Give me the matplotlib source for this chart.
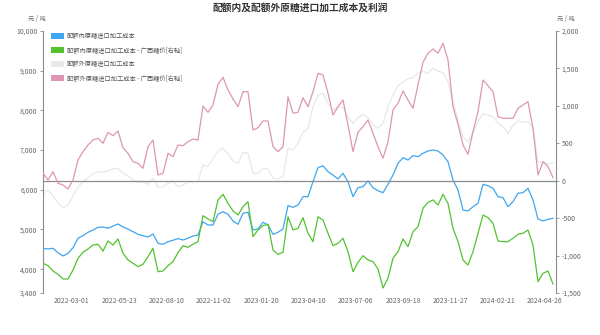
import matplotlib
matplotlib.use('Agg')
import matplotlib.pyplot as plt
from matplotlib.patches import Patch
from matplotlib.ticker import FuncFormatter
import numpy as np

plt.rcParams['font.family'] = ['Noto Sans CJK SC', 'DejaVu Sans']

# weekly-ish samples, left axis (元/吨)
quota_in_cost = [4526, 4509, 4526, 4415, 4332, 4400, 4541, 4778, 4844, 4929,
                 4987, 5055, 5063, 5030, 5088, 5138, 5063, 5012, 4944, 4879,
                 4844, 4811, 4886, 4652, 4627, 4692, 4728, 4770, 4735, 4778,
                 4836, 4861, 5196, 5113, 5113, 5383, 5448, 5383, 5214, 5131,
                 5408, 5433, 4987, 5012, 5181, 5113, 4879, 4929, 5012, 5599,
                 5559, 5617, 5826, 5826, 6204, 6557, 6607, 6456, 6373, 6272,
                 6415, 6204, 5826, 6053, 6078, 6221, 6053, 5977, 5927, 6138,
                 6373, 6667, 6808, 6750, 6859, 6834, 6919, 6977, 7002, 6977,
                 6876, 6708, 6247, 5995, 5491, 5466, 5574, 5660, 6138, 6103,
                 6038, 5826, 5801, 5574, 5700, 5912, 5927, 6038, 5743, 5264,
                 5214, 5256, 5282]
quota_out_cost = [5912, 5995, 5844, 5675, 5549, 5617, 5851, 6063, 6204, 6305,
                  6405, 6448, 6448, 6473, 6531, 6541, 6415, 6355, 6247, 6189,
                  6204, 6138, 6290, 6063, 6070, 6164, 6204, 6078, 6121, 6189,
                  6204, 6204, 6625, 6582, 6776, 6977, 7045, 6919, 6725, 6667,
                  6944, 6919, 6415, 6415, 6541, 6524, 6290, 6272, 6330, 7045,
                  7002, 7171, 7448, 7549, 8093, 8388, 8431, 8179, 8010, 8093,
                  8068, 7841, 7675, 7816, 7902, 7816, 7632, 7549, 7675, 8093,
                  8388, 8622, 8708, 8791, 8824, 8934, 8992, 8934, 9060, 8992,
                  8950, 8723, 8219, 7783, 7337, 7211, 7448, 7715, 7917, 7884,
                  7841, 7675, 7589, 7423, 7632, 7733, 7700, 7715, 7589, 6690,
                  6705, 6650, 6680]
# right axis: cost minus Guangxi sugar price
quota_in_margin = [-1103, -1135, -1206, -1250, -1313, -1313, -1193, -1036, -956, -912,
                   -859, -849, -939, -805, -859, -778, -969, -1059, -1103, -1148,
                   -1116, -1015, -903, -1215, -1206, -1135, -1082, -961, -868, -889,
                   -849, -814, -467, -511, -547, -257, -181, -302, -404, -458,
                   -347, -280, -748, -658, -601, -582, -925, -983, -956, -481,
                   -658, -636, -494, -702, -814, -481, -525, -702, -868, -836,
                   -769, -948, -1215, -1090, -1002, -1059, -1082, -1179, -1433, -1303,
                   -1036, -948, -778, -881, -681, -614, -368, -288, -257, -324,
                   -181, -302, -636, -814, -1059, -1126, -948, -702, -458, -494,
                   -569, -805, -814, -814, -769, -716, -702, -658, -859, -1349,
                   -1237, -1206, -1380]
quota_out_margin = [99, 10, 121, -34, -57, -111, 10, 277, 388, 477,
                    544, 567, 500, 647, 601, 664, 441, 366, 254, 233,
                    166, 454, 544, 76, 99, 366, 321, 477, 468, 521,
                    557, 544, 998, 914, 1012, 1288, 1382, 1212, 1092, 989,
                    1189, 1189, 678, 708, 798, 798, 454, 388, 454, 1122,
                    901, 914, 1109, 989, 1189, 1435, 1412, 1168, 878, 989,
                    1078, 744, 388, 647, 722, 811, 633, 454, 300, 521,
                    945, 1034, 1199, 1078, 967, 1279, 1582, 1702, 1760, 1702,
                    1836, 1613, 989, 754, 477, 353, 655, 922, 1345, 1269,
                    1189, 855, 834, 834, 834, 967, 1012, 1056, 700, 76,
                    254, 187, 40]

date_labels = ['2022-03-01', '2022-05-23', '2022-08-10', '2022-11-02', '2023-01-20',
               '2023-04-10', '2023-07-06', '2023-09-18', '2023-11-27', '2024-02-21',
               '2024-04-26']

names = ['配额内原糖进口加工成本', '配额内原糖进口加工成本 - 广西糖价[右轴]',
         '配额外原糖进口加工成本', '配额外原糖进口加工成本 - 广西糖价[右轴]']
colors = ['#3ea6ee', '#52c22e', '#e6e8eb', '#dd96b2']

x = np.arange(len(quota_in_cost))

fig = plt.figure(figsize=(6, 3.35), dpi=100)
ax = fig.add_axes([43 / 600, 1 - 293 / 335, 513 / 600, 262 / 335])
ax2 = ax.twinx()

ax.plot(x, quota_in_cost, color=colors[0], lw=0.9, zorder=3)
ax.plot(x, quota_out_cost, color=colors[2], lw=0.9, zorder=2)
ax2.plot(x, quota_in_margin, color=colors[1], lw=0.9, zorder=3)
ax2.plot(x, quota_out_margin, color=colors[3], lw=0.9, zorder=2)
ax2.axhline(0, color='#8c8c8c', lw=0.9, zorder=1)

ax.set_xlim(0, 102.6)
ax.set_ylim(3400, 10000)
ax2.set_ylim(-1500, 2000)
ax.set_yticks([3400, 4000, 5000, 6000, 7000, 8000, 9000, 10000])
ax2.set_yticks(np.arange(-1500, 2001, 500))
fmt = FuncFormatter(lambda v, p: '{:,}'.format(int(v)))
ax.yaxis.set_major_formatter(fmt)
ax2.yaxis.set_major_formatter(fmt)

ax.set_xticks(5.8 + 9.46 * np.arange(len(date_labels)))
ax.set_xticklabels(date_labels)

for a in (ax, ax2):
    for s in ('top', 'bottom'):
        a.spines[s].set_visible(False)
    a.spines['left'].set_color('#8c8c8c')
    a.spines['right'].set_color('#8c8c8c')
    a.tick_params(axis='y', labelsize=5, colors='#8c8c8c', labelcolor='#666666',
                  length=2.5, width=0.6, pad=1.5)
ax.spines['right'].set_visible(False)
ax2.spines['left'].set_visible(False)
ax.tick_params(axis='x', labelsize=5, labelcolor='#666666', length=0, pad=3)

fig.text(300 / 600, 1 - 8 / 335, '配额内及配额外原糖进口加工成本及利润', ha='center',
         va='center', fontsize=7, fontweight='bold', color='#333333')
fig.text(37 / 600, 1 - 19 / 335, '元 / 吨', ha='center', va='center', fontsize=4.5, color='#666666')
fig.text(566 / 600, 1 - 19 / 335, '元 / 吨', ha='center', va='center', fontsize=4.5, color='#666666')

handles = [Patch(facecolor=c, edgecolor='none') for c in colors]
ax2.legend(handles, names, loc='upper left', bbox_to_anchor=(0.015, 0.997),
           frameon=False, fontsize=4.5, handlelength=2.1, handleheight=1.1,
           handletextpad=0.5, labelspacing=1.0, borderpad=0, borderaxespad=0,
           labelcolor='#555555')

fig.savefig('out.png', dpi=100)
